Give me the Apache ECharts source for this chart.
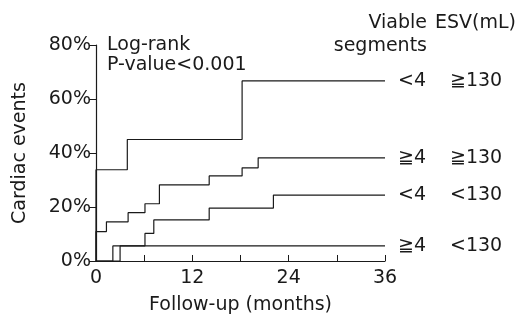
<!DOCTYPE html>
<html>
<head>
<meta charset="utf-8">
<script src="https://cdn.jsdelivr.net/npm/echarts@6/dist/echarts.min.js"></script>
<style>
  html, body { margin: 0; padding: 0; background: #fff; }
  #chart { width: 524px; height: 320px; }
</style>
</head>
<body>
<div id="chart"></div>
<script>
// group labels (viable segments / ESV)
const groupSeg = ['<4', '≧4', '<4', '≧4'];
const groupEsv = ['≧130', '≧130', '<130', '<130'];

// step points: months and cumulative event rate (%)
const t1 = [0, 0, 3.9, 18.2, 36];
const v1 = [0, 33.8, 45.0, 66.7, 66.7];
const t2 = [0, 0, 1.3, 4.0, 6.1, 7.9, 14.1, 18.2, 20.2, 36];
const v2 = [0, 10.9, 14.5, 17.9, 21.2, 28.2, 31.5, 34.5, 38.2, 38.2];
const t3 = [0, 3.0, 6.1, 7.2, 14.1, 22.1, 36];
const v3 = [0, 5.6, 10.2, 15.2, 19.6, 24.4, 24.4];
const t4 = [0, 2.1, 36];
const v4 = [0, 5.6, 5.6];

const xTicks = [0, 12, 24, 36];

const FONT = '"DejaVu Sans", "Noto Sans CJK JP", sans-serif';
const FS = 19;
const INK = '#1a1a1a';

const chart = echarts.init(document.getElementById('chart'), null, { renderer: 'canvas' });

function pairs(t, v) {
  return t.map((x, i) => [x, v[i]]);
}

const curves = [[t1, v1], [t2, v2], [t3, v3], [t4, v4]];

const series = curves.map((c, i) => ({
  type: 'line',
  name: groupSeg[i] + ' ' + groupEsv[i],
  step: 'end',
  data: pairs(c[0], c[1]),
  symbol: 'none',
  silent: true,
  lineStyle: { color: INK, width: 1.2 },
  endLabel: {
    show: true,
    distance: 13,
    formatter: () => '{a|' + groupSeg[i] + '}{b|' + groupEsv[i] + '}',
    rich: {
      a: { width: 52, fontSize: FS, fontFamily: FONT, color: INK },
      b: { fontSize: FS, fontFamily: FONT, color: INK }
    }
  }
}));

const option = {
  backgroundColor: '#fff',
  animation: false,
  grid: { left: 96, right: 139, top: 45, bottom: 55 },
  xAxis: {
    type: 'value',
    min: 0,
    max: 36,
    interval: 6,
    name: 'Follow-up (months)',
    nameLocation: 'middle',
    nameGap: 35,
    nameTextStyle: { fontSize: FS, fontFamily: FONT, color: INK },
    axisLine: { lineStyle: { color: INK, width: 1.2 } },
    axisTick: { inside: true, length: 6, lineStyle: { color: INK } },
    axisLabel: {
      margin: 8,
      fontSize: FS,
      fontFamily: FONT,
      color: INK,
      formatter: v => (xTicks.indexOf(v) >= 0 ? String(v) : '')
    },
    splitLine: { show: false }
  },
  yAxis: {
    type: 'value',
    min: 0,
    max: 80,
    interval: 20,
    name: 'Cardiac events',
    nameLocation: 'middle',
    nameGap: 66,
    nameTextStyle: { fontSize: FS, fontFamily: FONT, color: INK },
    axisLine: { show: true, lineStyle: { color: INK, width: 1.2 } },
    axisTick: { show: true, length: 7, lineStyle: { color: INK } },
    axisLabel: { margin: 5, fontSize: FS, fontFamily: FONT, color: INK, formatter: '{value}%' },
    splitLine: { show: false }
  },
  graphic: [
    { type: 'text', left: 107, top: 36, style: { text: 'Log-rank', font: FS + 'px ' + FONT, fill: INK } },
    { type: 'text', left: 107, top: 56, style: { text: 'P-value<0.001', font: FS + 'px ' + FONT, fill: INK } },
    { type: 'text', right: 97, top: 14, style: { text: 'Viable', font: FS + 'px ' + FONT, fill: INK } },
    { type: 'text', right: 97, top: 37, style: { text: 'segments', font: FS + 'px ' + FONT, fill: INK } },
    { type: 'text', left: 435, top: 14, style: { text: 'ESV(mL)', font: FS + 'px ' + FONT, fill: INK } }
  ],
  series: series
};

chart.setOption(option);
</script>
</body>
</html>
